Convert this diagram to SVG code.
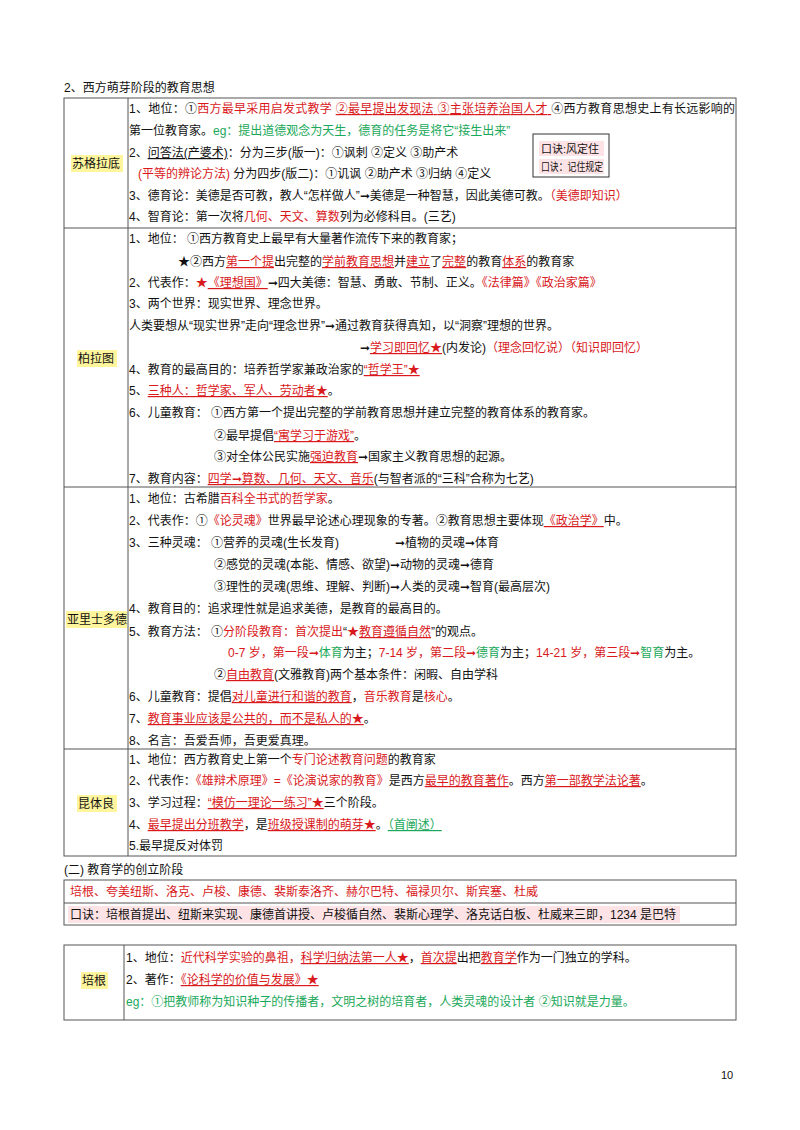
<svg xmlns="http://www.w3.org/2000/svg" width="800" height="1130" viewBox="0 0 800 1130">
<style>
text{font-family:"Liberation Sans","Noto Sans CJK SC",sans-serif;font-size:12px;fill:#111}
.r{fill:#d9191c}.g{fill:#1aa85a}.u{text-decoration:underline}
.lab{font-size:12px}
.hl{fill:#fff59d}
.bd{fill:none;stroke:#555;stroke-width:1}
</style>
<rect width="800" height="1130" fill="#fff"/>
<text x="64" y="92">2、西方萌芽阶段的教育思想</text>
<g id="table1">
<rect class="bd" x="64" y="98" width="672" height="758"/>
<line class="bd" x1="128" y1="98" x2="128" y2="856"/>
<line class="bd" x1="64" y1="228" x2="736" y2="228"/>
<line class="bd" x1="64" y1="487" x2="736" y2="487"/>
<line class="bd" x1="64" y1="749" x2="736" y2="749"/>
</g>
<g id="socrates">
<rect class="hl" x="71" y="155" width="52" height="17"/>
<text class="lab" x="72" y="168">苏格拉底</text>
<text x="129" y="113" textLength="606" lengthAdjust="spacing">1、地位：①<tspan class="r">西方最早采用启发式教学 </tspan><tspan class="r u">②最早提出发现法 ③主张培养治国人才 </tspan>④西方教育思想史上有长远影响的</text>
<text x="129" y="135">第一位教育家。<tspan class="g">eg：提出道德观念为天生，德育的任务是将它“接生出来”</tspan></text>
<text x="129" y="157">2、<tspan class="u">问答法(产婆术)</tspan>：分为三步(版一)：①讽刺 ②定义 ③助产术</text>
<text x="138" y="178"><tspan class="r">(平等的辨论方法)</tspan>    分为四步(版二)：①讥讽 ②助产术 ③归纳 ④定义</text>
<text x="129" y="200">3、德育论：美德是否可教，教人“怎样做人”➞美德是一种智慧，因此美德可教。<tspan class="r">（美德即知识）</tspan></text>
<text x="129" y="221">4、智育论：第一次将<tspan class="r">几何、天文、算数</tspan>列为必修科目。(三艺)</text>
</g>
<g id="mnemonic1">
<rect x="533" y="134" width="76" height="43" fill="#fff" stroke="#333"/>
<rect x="539" y="141" width="65" height="15" fill="#fde3e6"/>
<rect x="539" y="159" width="65" height="15" fill="#fde3e6"/>
<text x="541" y="153" style="font-size:11px">口诀:风定住</text>
<text x="541" y="171" style="font-size:11px" textLength="62" lengthAdjust="spacingAndGlyphs">口诀：记住规定</text>
</g>
<g id="plato">
<rect class="hl" x="77" y="350" width="40" height="17"/>
<text class="lab" x="78" y="363">柏拉图</text>
<text x="129" y="243">1、地位： ①西方教育史上最早有大量著作流传下来的教育家；</text>
<text x="178" y="266">★②西方<tspan class="r u">第一个提</tspan>出完整的<tspan class="r u">学前教育思想</tspan>并<tspan class="r u">建立</tspan>了<tspan class="r u">完整</tspan>的教育<tspan class="r u">体系</tspan>的教育家</text>
<text x="129" y="287">2、代表作：<tspan class="r">★</tspan><tspan class="r u">《理想国》</tspan>➞四大美德：智慧、勇敢、节制、正义。<tspan class="r">《法律篇》《政治家篇》</tspan></text>
<text x="129" y="308">3、两个世界：现实世界、理念世界。</text>
<text x="129" y="330">人类要想从“现实世界”走向“理念世界”➞通过教育获得真知，以“洞察”理想的世界。</text>
<text x="360" y="352">➞<tspan class="r u">学习即回忆★</tspan>(内发论)<tspan class="r">（理念回忆说）（知识即回忆）</tspan></text>
<text x="129" y="374">4、教育的最高目的：培养哲学家兼政治家的<tspan class="r u">“哲学王”★</tspan></text>
<text x="129" y="395">5、<tspan class="r u">三种人：哲学家、军人、劳动者★</tspan>。</text>
<text x="129" y="417">6、儿童教育： ①西方第一个提出完整的学前教育思想并建立完整的教育体系的教育家。</text>
<text x="214" y="440">②最早提倡<tspan class="r u">“寓学习于游戏”</tspan>。</text>
<text x="214" y="461">③对全体公民实施<tspan class="r u">强迫教育</tspan>➞国家主义教育思想的起源。</text>
<text x="129" y="483">7、教育内容：<tspan class="r u">四学➞算数、几何、天文、音乐</tspan>(与智者派的“三科”合称为七艺)</text>
</g>
<g id="aristotle">
<rect class="hl" x="66" y="611" width="61" height="17"/>
<text class="lab" x="67" y="624">亚里士多德</text>
<text x="129" y="503">1、地位：古希腊<tspan class="r">百科全书式的哲学家</tspan>。</text>
<text x="129" y="525">2、代表作：①<tspan class="r">《论灵魂》</tspan>世界最早论述心理现象的专著。②教育思想主要体现<tspan class="r u">《政治学》</tspan>中。</text>
<text x="129" y="547">3、三种灵魂： ①营养的灵魂(生长发育)</text>
<text x="395" y="547">➞植物的灵魂➞体育</text>
<text x="214" y="569">②感觉的灵魂(本能、情感、欲望)➞动物的灵魂➞德育</text>
<text x="214" y="591">③理性的灵魂(思维、理解、判断)➞人类的灵魂➞智育(最高层次)</text>
<text x="129" y="613">4、教育目的：追求理性就是追求美德，是教育的最高目的。</text>
<text x="129" y="636">5、教育方法： ①<tspan class="r">分阶段教育：首次提出</tspan>“<tspan class="r">★</tspan><tspan class="r u">教育遵循自然</tspan>”的观点。</text>
<text x="228" y="657"><tspan class="r">0-7 岁，第一段➞</tspan><tspan class="g">体育</tspan>为主；<tspan class="r">7-14 岁，第二段➞</tspan><tspan class="g">德育</tspan>为主；<tspan class="r">14-21 岁，第三段➞</tspan><tspan class="g">智育</tspan>为主。</text>
<text x="214" y="679">②<tspan class="r u">自由教育</tspan>(文雅教育)两个基本条件：闲暇、自由学科</text>
<text x="129" y="701">6、儿童教育：提倡<tspan class="r u">对儿童进行和谐的教育</tspan>，<tspan class="r">音乐教育</tspan>是<tspan class="r">核心</tspan>。</text>
<text x="129" y="723">7、<tspan class="r u">教育事业应该是公共的，而不是私人的★</tspan>。</text>
<text x="129" y="745">8、名言：吾爱吾师，吾更爱真理。</text>
</g>
<g id="quintilian">
<rect class="hl" x="77" y="795" width="40" height="17"/>
<text class="lab" x="78" y="808">昆体良</text>
<text x="129" y="764">1、地位：西方教育史上第一个<tspan class="r">专门论述教育问题</tspan>的教育家</text>
<text x="129" y="785">2、代表作：<tspan class="r">《雄辩术原理》=《论演说家的教育》</tspan>是西方<tspan class="r u">最早的教育著作</tspan>。西方<tspan class="r u">第一部教学法论著</tspan>。</text>
<text x="129" y="807">3、学习过程：<tspan class="r u">“模仿一理论一练习”★</tspan>三个阶段。</text>
<text x="129" y="829">4、<tspan class="r u">最早提出分班教学</tspan>，是<tspan class="r u">班级授课制的萌芽★</tspan>。<tspan class="g u">（首阐述）</tspan></text>
<text x="129" y="850">5.最早提反对体罚</text>
</g>
<text x="64" y="874">(二) 教育学的创立阶段</text>
<g id="founders">
<rect class="bd" x="64" y="880" width="672" height="45"/>
<line class="bd" x1="64" y1="903" x2="736" y2="903"/>
<rect x="68" y="906" width="612" height="17" fill="#fde3e6"/>
<text class="r" x="70" y="896">培根、夸美纽斯、洛克、卢梭、康德、裴斯泰洛齐、赫尔巴特、福禄贝尔、斯宾塞、杜威</text>
<text x="70" y="919">口诀：培根首提出、纽斯来实现、康德首讲授、卢梭循自然、裴斯心理学、洛克话白板、杜威来三即，1234 是巴特</text>
</g>
<g id="bacon">
<rect class="bd" x="64" y="945" width="672" height="75"/>
<line class="bd" x1="124" y1="945" x2="124" y2="1020"/>
<rect class="hl" x="81" y="972" width="27" height="17"/>
<text class="lab" x="82" y="985">培根</text>
<text x="126" y="962">1、地位：<tspan class="r">近代科学实验的鼻祖，</tspan><tspan class="r u">科学归纳法第一人★</tspan>，<tspan class="r u">首次提</tspan>出把<tspan class="r u">教育学</tspan>作为一门独立的学科。</text>
<text x="126" y="984">2、著作：<tspan class="r u">《论科学的价值与发展》★</tspan></text>
<text class="g" x="126" y="1006">eg：①把教师称为知识种子的传播者，文明之树的培育者，人类灵魂的设计者 ②知识就是力量。</text>
</g>
<text x="721" y="1079" style="font-size:11px">10</text>
</svg>
